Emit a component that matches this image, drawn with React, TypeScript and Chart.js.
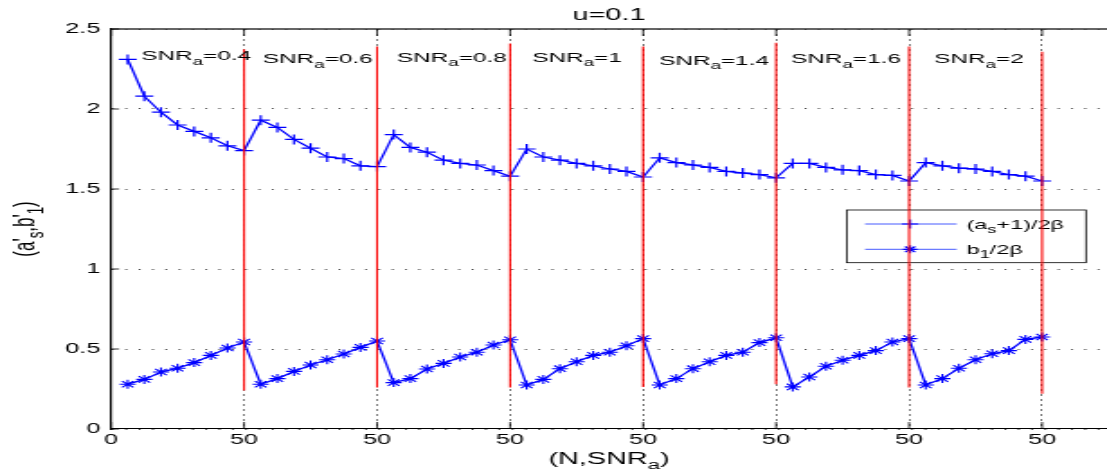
import React, { useEffect, useRef } from 'react';
import { Chart, registerables } from 'chart.js';

Chart.register(...registerables);

const FONT = "'Liberation Sans', Arial, Helvetica, sans-serif";

// N grid inside each SNR block and block starts on the x axis
const stepsN = [6.25, 12.5, 18.75, 25, 31.25, 37.5, 43.75, 50];
const segmentStart = [0, 50, 100, 150, 200, 250, 300];
const snrValues = ['0.4', '0.6', '0.8', '1', '1.4', '1.6', '2'];

// (a_s+1)/2β
const seriesA = [
  2.31, 2.08, 1.98, 1.9, 1.86, 1.82, 1.77, 1.74,
  1.93, 1.885, 1.81, 1.755, 1.7, 1.69, 1.645, 1.64,
  1.84, 1.76, 1.73, 1.68, 1.66, 1.65, 1.615, 1.58,
  1.75, 1.7, 1.68, 1.66, 1.645, 1.625, 1.61, 1.575,
  1.695, 1.665, 1.65, 1.635, 1.61, 1.6, 1.59, 1.57,
  1.66, 1.66, 1.635, 1.62, 1.615, 1.59, 1.585, 1.55,
  1.665, 1.645, 1.63, 1.625, 1.61, 1.59, 1.58, 1.55,
];

// b_1/2β
const seriesB = [
  0.28, 0.31, 0.356, 0.38, 0.415, 0.46, 0.506, 0.544,
  0.28, 0.315, 0.36, 0.4, 0.433, 0.469, 0.51, 0.55,
  0.29, 0.315, 0.375, 0.41, 0.45, 0.48, 0.525, 0.558,
  0.275, 0.31, 0.377, 0.42, 0.46, 0.48, 0.52, 0.565,
  0.275, 0.315, 0.377, 0.42, 0.46, 0.48, 0.54, 0.57,
  0.263, 0.325, 0.392, 0.43, 0.46, 0.49, 0.544, 0.565,
  0.275, 0.315, 0.38, 0.433, 0.47, 0.49, 0.56, 0.575,
];

const seriesLabels = ['(a_s+1)/2β', 'b_1/2β'];

// red dividers
const dividerX = [50, 100, 150, 200, 250, 300, 350];
const dividerTop = [2.373, 2.39, 2.41, 2.39, 2.414, 2.39, 2.358];
const dividerBottom = [0.24, 0.26, 0.26, 0.262, 0.28, 0.26, 0.22];

// SNR annotation anchors (data coordinates)
const snrLabelX = [11.3, 57.1, 107.5, 158.3, 206, 255.6, 309.4];
const snrLabelY = [2.334, 2.316, 2.325, 2.325, 2.306, 2.316, 2.316];

const xTickValues = [0, 50, 100, 150, 200, 250, 300, 350];
const xTickLabels = ['0', '50', '50', '50', '50', '50', '50', '50'];
const yTickValues = [0, 0.5, 1, 1.5, 2, 2.5];
const yTickLabels = ['0', '0.5', '1', '1.5', '2', '2.5'];

const titleText = 'u=0.1';
const xTitle = '(N,SNR_a)';
const yTitle = "(a'_s,b'_1)";

type Tok = { t: string; m: number };
function parseTex(s: string): Tok[] {
  const out: Tok[] = [];
  let buf = '';
  let i = 0;
  while (i < s.length) {
    const c = s[i];
    if ((c === '_' || c === '^') && i + 1 < s.length) {
      if (buf) { out.push({ t: buf, m: 0 }); buf = ''; }
      out.push({ t: s[i + 1], m: c === '_' ? 1 : 2 });
      i += 2;
    } else {
      buf += c;
      i++;
    }
  }
  if (buf) out.push({ t: buf, m: 0 });
  return out;
}

function drawTex(ctx: CanvasRenderingContext2D, text: string, x: number, y: number, size: number, align: string) {
  const toks = parseTex(text);
  const sub = size * 0.78;
  const w: number[] = [];
  toks.forEach((t) => {
    ctx.font = `${t.m ? sub : size}px ${FONT}`;
    w.push(ctx.measureText(t.t).width);
  });
  const total = w.reduce((a, b) => a + b, 0);
  let cx = align === 'center' ? x - total / 2 : x;
  ctx.textAlign = 'left';
  ctx.textBaseline = 'alphabetic';
  ctx.fillStyle = '#000';
  toks.forEach((t, i) => {
    ctx.font = `${t.m ? sub : size}px ${FONT}`;
    const dy = t.m === 1 ? size * 0.32 : t.m === 2 ? -size * 0.4 : 0;
    ctx.fillText(t.t, cx, y + dy);
    cx += w[i];
  });
}

function drawMarker(ctx: CanvasRenderingContext2D, kind: string, x: number, y: number, r: number) {
  ctx.beginPath();
  ctx.moveTo(x - r, y); ctx.lineTo(x + r, y);
  ctx.moveTo(x, y - r); ctx.lineTo(x, y + r);
  if (kind === 'star') {
    const d = r * Math.SQRT1_2;
    ctx.moveTo(x - d, y - d); ctx.lineTo(x + d, y + d);
    ctx.moveTo(x - d, y + d); ctx.lineTo(x + d, y - d);
  }
  ctx.stroke();
}

const decor = {
  id: 'decor',
  beforeDatasetsDraw(chart: any) {
    const { ctx, chartArea: ca, scales } = chart;
    ctx.save();
    // top frame line
    ctx.strokeStyle = '#333';
    ctx.lineWidth = 1.6;
    ctx.beginPath();
    ctx.moveTo(ca.left, ca.top);
    ctx.lineTo(ca.right, ca.top);
    ctx.stroke();
    // inward ticks
    ctx.strokeStyle = '#000';
    ctx.lineWidth = 0.8;
    yTickValues.forEach((v) => {
      const py = scales.y.getPixelForValue(v);
      ctx.beginPath();
      ctx.moveTo(ca.left, py);
      ctx.lineTo(ca.left + 4.5, py);
      ctx.stroke();
    });
    xTickValues.forEach((v) => {
      const px = scales.x.getPixelForValue(v);
      ctx.beginPath();
      ctx.moveTo(px, ca.bottom);
      ctx.lineTo(px, ca.bottom - 7);
      ctx.moveTo(px, ca.top);
      ctx.lineTo(px, ca.top + 7);
      ctx.stroke();
    });
    // legend box
    const bx = 470.4, by = 210, bw = 132.9, bh = 52.7;
    ctx.fillStyle = '#fff';
    ctx.fillRect(bx, by, bw, bh);
    ctx.strokeStyle = '#000';
    ctx.lineWidth = 0.8;
    ctx.strokeRect(bx, by, bw, bh);
    const rows = [224, 249.3];
    const kinds = ['cross', 'star'];
    rows.forEach((ry, i) => {
      ctx.strokeStyle = 'rgb(70,90,255)';
      ctx.lineWidth = 1;
      ctx.beginPath();
      ctx.moveTo(480.6, ry);
      ctx.lineTo(531.5, ry);
      ctx.stroke();
      ctx.strokeStyle = 'rgb(0,0,255)';
      ctx.lineWidth = 1.2;
      drawMarker(ctx, kinds[i], 505.6, ry, kinds[i] === 'star' ? 4 : 4.5);
      drawTex(ctx, seriesLabels[i], 537, ry + 4.6, 13, 'left');
    });
    ctx.restore();
  },
  afterDraw(chart: any) {
    const { ctx, chartArea: ca, scales } = chart;
    ctx.save();
    const cxm = (ca.left + ca.right) / 2;
    drawTex(ctx, titleText, cxm, 19.5, 16, 'center');
    drawTex(ctx, xTitle, cxm, 464, 16, 'center');
    ctx.save();
    ctx.translate(19, (ca.top + ca.bottom) / 2);
    ctx.rotate(-Math.PI / 2);
    drawTex(ctx, yTitle, 0, 0, 17, 'center');
    ctx.restore();
    snrValues.forEach((v, i) => {
      const px = scales.x.getPixelForValue(snrLabelX[i]);
      const py = scales.y.getPixelForValue(snrLabelY[i]);
      drawTex(ctx, `SNR_a=${v}`, px, py + 13.5 * 0.36, 13.5, 'left');
    });
    ctx.restore();
  },
};

export default function App() {
  const ref = useRef<HTMLCanvasElement>(null);
  useEffect(() => {
    const canvas = ref.current;
    if (!canvas) return;
    const xs: number[] = [];
    segmentStart.forEach((s) => stepsN.forEach((n) => xs.push(s + n)));
    const dividers = dividerX.map((x, i) => ({
      label: `divider${i}`,
      data: [{ x, y: dividerTop[i] }, { x, y: dividerBottom[i] }],
      borderColor: 'rgb(250,0,0)',
      borderWidth: 1.1,
      pointRadius: 0,
      order: 0,
    }));
    const chart = new Chart(canvas, {
      type: 'line',
      data: {
        datasets: [
          ...dividers,
          {
            label: seriesLabels[0],
            data: seriesA.map((y, i) => ({ x: xs[i], y })),
            borderColor: 'rgb(0,0,255)',
            borderWidth: 1.3,
            pointStyle: 'cross',
            pointRadius: 5,
            pointBorderWidth: 1.2,
            pointBorderColor: 'rgb(0,0,255)',
            tension: 0,
            order: 1,
          },
          {
            label: seriesLabels[1],
            data: seriesB.map((y, i) => ({ x: xs[i], y })),
            borderColor: 'rgb(0,0,255)',
            borderWidth: 1.3,
            pointStyle: 'star',
            pointRadius: 4.5,
            pointBorderWidth: 1.1,
            pointBorderColor: 'rgb(0,0,255)',
            tension: 0,
            order: 1,
          },
        ] as any,
      },
      options: {
        animation: false,
        responsive: false,
        devicePixelRatio: 1,
        events: [],
        layout: { autoPadding: false, padding: { top: 29, right: 0, bottom: 0, left: 0 } },
        plugins: { legend: { display: false }, tooltip: { enabled: false }, title: { display: false } },
        scales: {
          x: {
            type: 'linear',
            min: 0,
            max: 374.4,
            afterBuildTicks: (scale: any) => { scale.ticks = xTickValues.map((v) => ({ value: v })); },
            afterFit: (scale: any) => { scale.height = 47; scale.paddingLeft = 0; scale.paddingRight = 0; },
            ticks: {
              autoSkip: false,
              maxRotation: 0,
              padding: 3,
              color: '#000',
              font: { family: FONT, size: 14 },
              callback: (_v: any, i: number) => xTickLabels[i],
            },
            grid: { color: 'rgba(90,90,90,0.9)', lineWidth: 0.9, drawTicks: false },
            border: { display: true, color: '#000', width: 1.1, dash: [2, 3] },
          },
          y: {
            type: 'linear',
            min: 0,
            max: 2.5,
            afterBuildTicks: (scale: any) => { scale.ticks = yTickValues.map((v) => ({ value: v })); },
            afterFit: (scale: any) => { scale.width = 61.7; scale.paddingTop = 0; scale.paddingBottom = 0; },
            ticks: {
              padding: 6,
              color: '#000',
              font: { family: FONT, size: 14 },
              callback: (_v: any, i: number) => yTickLabels[i],
            },
            grid: { color: 'rgba(60,60,60,0.9)', lineWidth: 1, drawTicks: false },
            border: { display: true, color: '#000', width: 1.2, dash: [1.1, 6.3] },
          },
        },
      } as any,
      plugins: [decor],
    });
    return () => chart.destroy();
  }, []);
  return (
    <div style={{ position: 'fixed', left: 0, top: 0, width: 1107, height: 476, background: '#fff' }}>
      <canvas ref={ref} width={615} height={476} style={{ width: '1107px', height: '476px', display: 'block' }} />
    </div>
  );
}
